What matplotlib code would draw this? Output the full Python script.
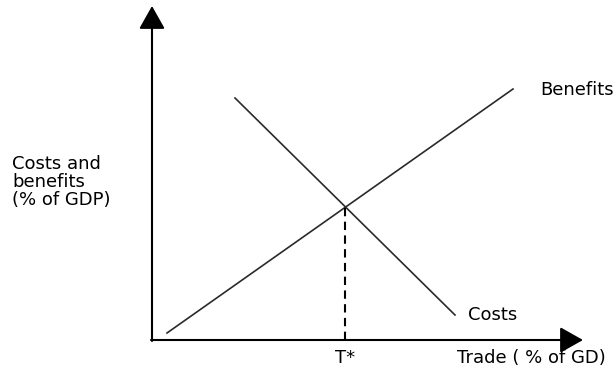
import matplotlib
matplotlib.use("Agg")
import matplotlib.pyplot as plt

# Data (chart units: origin at the axes corner)
benefits_x = [15, 361]
benefits_y = [7, 251]
costs_x = [83, 303]
costs_y = [242, 25]
t_star = 193
t_star_y = 132

x_axis_end = 431
y_axis_end = 334

y_label = "Costs and\nbenefits\n(% of GDP)"
x_label = "Trade ( % of GD)"
t_label = "T*"
benefits_label = "Benefits"
costs_label = "Costs"

fig = plt.figure(figsize=(6.15, 3.84), dpi=100)
ax = fig.add_axes([0, 0, 1, 1])
ax.set_xlim(-152, 463)
ax.set_ylim(-44, 340)
ax.axis("off")

line_col = "#2a2a2a"
ax.plot(benefits_x, benefits_y, color=line_col, lw=1.2)
ax.plot(costs_x, costs_y, color=line_col, lw=1.2)
ax.plot([t_star, t_star], [0, t_star_y], color="black", lw=1.5,
        linestyle=(0, (4, 2.6)))

arrow_kw = dict(arrowstyle="-|>,head_length=1.42,head_width=0.8",
                color="black", lw=1.5, shrinkA=0, shrinkB=0,
                mutation_scale=10)
ax.annotate("", xy=(0, y_axis_end), xytext=(0, -1), arrowprops=arrow_kw)
ax.annotate("", xy=(x_axis_end, 0), xytext=(-1, 0), arrowprops=arrow_kw)

fs = 13
ax.text(-140, 158, y_label, fontsize=fs, ha="left", va="center",
        linespacing=1.0, family="DejaVu Sans")
ax.text(t_star, -18, t_label, fontsize=fs, ha="center", va="center")
ax.text(305, -18, x_label, fontsize=fs, ha="left", va="center")
ax.text(388, 250, benefits_label, fontsize=fs, ha="left", va="center")
ax.text(316, 25, costs_label, fontsize=fs, ha="left", va="center")

fig.savefig("out.png", dpi=100)
